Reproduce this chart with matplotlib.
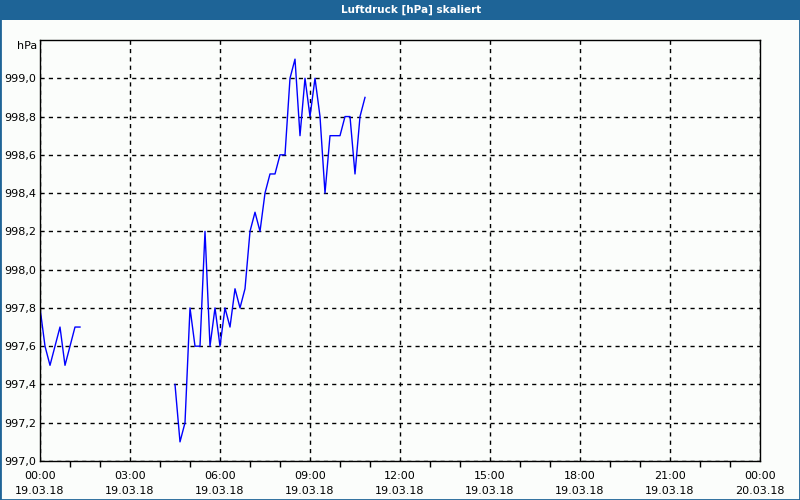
import numpy as np
import matplotlib.pyplot as plt
from matplotlib.patches import Rectangle

# Luftdruck 19.03.18, 10-Minuten-Werte (hPa)
times1 = ["00:00", "00:10", "00:20", "00:30", "00:40", "00:50", "01:00", "01:10", "01:20"]
druck1 = [997.8, 997.6, 997.5, 997.6, 997.7, 997.5, 997.6, 997.7, 997.7]

times2 = ["04:30", "04:40", "04:50", "05:00", "05:10", "05:20", "05:30", "05:40", "05:50",
          "06:00", "06:10", "06:20", "06:30", "06:40", "06:50", "07:00", "07:10", "07:20",
          "07:30", "07:40", "07:50", "08:00", "08:10", "08:20", "08:30", "08:40", "08:50",
          "09:00", "09:10", "09:20", "09:30", "09:40", "09:50", "10:00", "10:10", "10:20",
          "10:30", "10:40", "10:50"]
druck2 = [997.4, 997.1, 997.2, 997.8, 997.6, 997.6, 998.2, 997.6, 997.8,
          997.6, 997.8, 997.7, 997.9, 997.8, 997.9, 998.2, 998.3, 998.2,
          998.4, 998.5, 998.5, 998.6, 998.6, 999.0, 999.1, 998.7, 999.0,
          998.8, 999.0, 998.8, 998.4, 998.7, 998.7, 998.7, 998.8, 998.8,
          998.5, 998.8, 998.9]

xlabels = ["00:00\n19.03.18", "03:00\n19.03.18", "06:00\n19.03.18", "09:00\n19.03.18",
           "12:00\n19.03.18", "15:00\n19.03.18", "18:00\n19.03.18", "21:00\n19.03.18",
           "00:00\n20.03.18"]
yticks = [997.0, 997.2, 997.4, 997.6, 997.8, 998.0, 998.2, 998.4, 998.6, 998.8, 999.0]

def to_h(t):
    h, m = t.split(":")
    return int(h) + int(m) / 60.

x = [to_h(t) for t in times1] + [np.nan] + [to_h(t) for t in times2]
y = druck1 + [np.nan] + druck2

blau = '#1e6497'
bg = '#fbfdfb'

fig = plt.figure(figsize=(8, 5), dpi=100, facecolor=bg)
ax = fig.add_axes([40/800, 1-461/500, 720/800, 421/500])
ax.set_facecolor(bg)

ax.plot(x, y, color='#0000ff', linewidth=1.0)

ax.set_xlim(0, 24)
ax.set_ylim(997.0, 999.2)
ax.set_xticks(np.arange(0, 25, 3))
ax.set_xticklabels(xlabels, fontsize=8, linespacing=1.6)
ax.set_xticks([h for h in range(25) if h % 3 != 0], minor=True)
ax.set_yticks(yticks)
ax.set_yticklabels([("%.1f" % v).replace(".", ",") for v in yticks], fontsize=8)
ax.tick_params(axis='x', which='major', length=0, pad=7)
ax.tick_params(axis='x', which='minor', direction='out', length=4, width=1)
ax.tick_params(axis='y', length=0, pad=3)
ax.grid(True, which='major', color='black', linestyle=(0, (3, 3)), linewidth=1)
for s in ax.spines.values():
    s.set_linewidth(1)

fig.text(37/800, 1-46/500, "hPa", ha='right', va='center', fontsize=8)

# Titelleiste
fig.patches.append(Rectangle((0, 1-20/500), 1, 20/500, transform=fig.transFigure,
                             facecolor=blau, edgecolor='none'))
fig.patches.append(Rectangle((0, 0), 1, 1, transform=fig.transFigure,
                             facecolor='none', edgecolor=blau, linewidth=2))
fig.text(411/800, 1-10/500, "Luftdruck [hPa] skaliert", ha='center', va='center',
         color='white', fontsize=7.5, fontweight='bold')

fig.savefig("out.png", dpi=100, facecolor=bg)
